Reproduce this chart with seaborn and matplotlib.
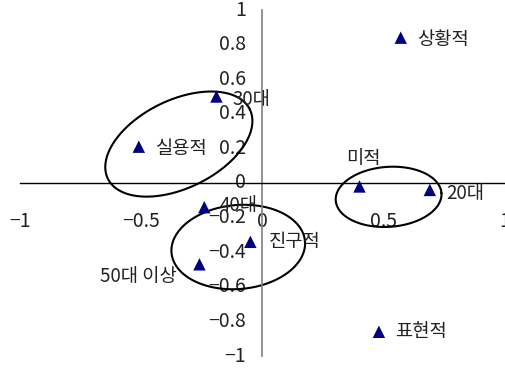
import numpy as np
import pandas as pd
import matplotlib
matplotlib.use("Agg")
import matplotlib.pyplot as plt
import seaborn as sns

# points
labels = ["상황적", "30대", "실용적", "미적", "20대", "40대", "진구적", "50대 이상", "표현적"]
xs = [0.57, -0.19, -0.51, 0.40, 0.69, -0.24, -0.05, -0.26, 0.48]
ys = [0.84, 0.50, 0.21, -0.02, -0.04, -0.14, -0.34, -0.47, -0.86]

# label offsets (points) and alignment
label_dx = [11.5, 11.5, 12, 3, 12, 11, 13, -16, 12]
label_dy = [-1.5, -2, -1, 20, -2.5, 1, 0.5, -8.5, 0]
label_ha = ["left", "left", "left", "center", "left", "left", "left", "right", "left"]

# ellipses: centre (data), semi-axes (px), tilt (deg)
ell_cx = [-0.345, 0.52, -0.10]
ell_cy = [0.225, -0.08, -0.37]
ell_a = [79, 53, 67]
ell_b = [44, 30, 42]
ell_ang = [26, 4, 5]

df = pd.DataFrame({"x": xs, "y": ys, "label": labels})

sns.set_style("white")
plt.rcParams["font.family"] = ["Noto Sans CJK KR", "DejaVu Sans"]
plt.rcParams["axes.unicode_minus"] = True

fig = plt.figure(figsize=(5.06, 3.69), dpi=100)
ax = fig.add_axes([20 / 506, 13 / 369, 485 / 506, 346 / 369])

sns.scatterplot(data=df, x="x", y="y", marker="^", s=80, color="#000080",
                edgecolor="none", ax=ax, clip_on=False, zorder=3)

for lab, x, y, dx, dy, ha in zip(labels, xs, ys, label_dx, label_dy, label_ha):
    ax.annotate(lab, (x, y), xytext=(dx, dy), textcoords="offset points",
                ha=ha, va="center", fontsize=13.5, color="#222222")

ax.set_xlim(-1, 1)
ax.set_ylim(-1, 1)

# ellipses drawn in pixel space, converted back to data units
bb = ax.get_window_extent()
sx = bb.width / 2.0
sy = bb.height / 2.0
t = np.linspace(0, 2 * np.pi, 300)
for cx, cy, a, b, ang in zip(ell_cx, ell_cy, ell_a, ell_b, ell_ang):
    th = np.deg2rad(ang)
    ex = cx + (a * np.cos(th) * np.cos(t) - b * np.sin(th) * np.sin(t)) / sx
    ey = cy + (a * np.sin(th) * np.cos(t) + b * np.cos(th) * np.sin(t)) / sy
    ax.plot(ex, ey, color="black", lw=1.5, clip_on=False, zorder=2)

ax.spines["left"].set_position(("data", 0))
ax.spines["bottom"].set_position(("data", 0))
ax.spines["top"].set_visible(False)
ax.spines["right"].set_visible(False)
ax.spines["left"].set_color("#808080")
ax.spines["bottom"].set_color("black")
ax.spines["left"].set_linewidth(1.2)
ax.spines["bottom"].set_linewidth(1.0)

ax.set_xticks([-1, -0.5, 0, 0.5, 1])
ax.set_xticklabels(["\u22121", "\u22120.5", "0", "0.5", "1"])
yt = [-1, -0.8, -0.6, -0.4, -0.2, 0, 0.2, 0.4, 0.6, 0.8, 1]
ax.set_yticks(yt)
ax.set_yticklabels([("\u2212" if v < 0 else "") + ("%g" % abs(v)) for v in yt])

ax.tick_params(axis="x", direction="in", length=6, width=1, color="black",
               pad=20, labelsize=14, labelcolor="#222222")
ax.tick_params(axis="y", direction="in", length=6, width=1, color="#808080",
               pad=12, labelsize=14, labelcolor="#222222")
for lab in ax.get_yticklabels():
    lab.set_verticalalignment("center")

ax.set_xlabel("")
ax.set_ylabel("")
ax.patch.set_visible(False)

fig.savefig("out.png", dpi=100)
